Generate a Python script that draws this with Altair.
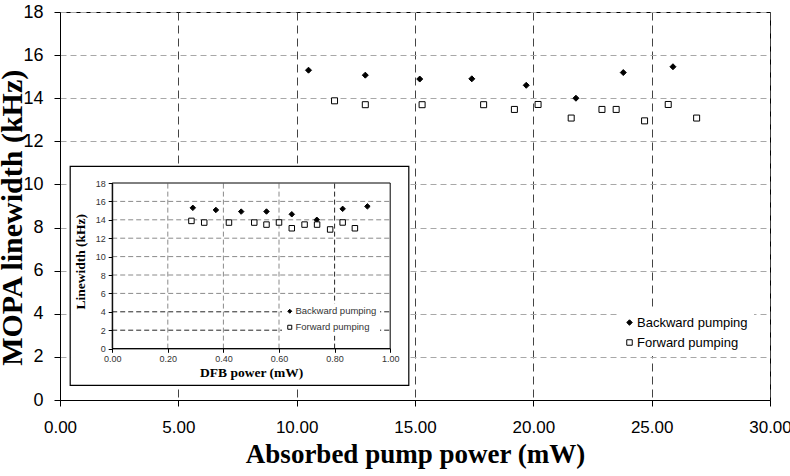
import altair as alt
import pandas as pd

SERIES = ["Backward pumping", "Forward pumping"]

# Absorbed pump power (mW) at each operating point
pump_backward = [10.5, 12.9, 15.2, 17.4, 19.7, 21.8, 23.8, 25.9]
pump_forward = [11.6, 12.9, 15.3, 17.9, 19.2, 20.2, 21.6, 22.9, 23.5, 24.7, 25.7, 26.9]

# DFB seed power (mW) at the same operating points
dfb_backward = [0.290, 0.373, 0.464, 0.555, 0.646, 0.736, 0.829, 0.918]
dfb_forward = [0.285, 0.331, 0.420, 0.511, 0.555, 0.600, 0.646, 0.692, 0.737, 0.784, 0.829, 0.873]

# Measured MOPA linewidth (kHz)
lw_backward = [15.3, 15.07, 14.89, 14.9, 14.6, 14.0, 15.19, 15.46]
lw_forward = [13.88, 13.7, 13.7, 13.7, 13.48, 13.71, 13.08, 13.48, 13.48, 12.95, 13.71, 13.08]

main_x_ticks = [0, 5, 10, 15, 20, 25, 30]
y_ticks = [0, 2, 4, 6, 8, 10, 12, 14, 16, 18]
inset_x_ticks = [0.0, 0.2, 0.4, 0.6, 0.8, 1.0]
inset_grid_x = [0.2, 0.4, 0.6, 0.8]
inset_grid_y = [2, 4, 6, 8, 10, 12, 14, 16]

df = pd.DataFrame({
    "series": [SERIES[0]] * len(lw_backward) + [SERIES[1]] * len(lw_forward),
    "pump": pump_backward + pump_forward,
    "dfb": dfb_backward + dfb_forward,
    "lw": lw_backward + lw_forward,
})

W, H = 710, 388
SANS = "Liberation Sans"
SERIF = "Liberation Serif"
GRID_LIGHT = "#8a8a8a"
GRID_DARK = "#262626"

shape_scale = alt.Scale(domain=SERIES, range=["diamond", "square"])
fill_scale = alt.Scale(domain=SERIES, range=["black", "white"])
stroke_scale = alt.Scale(domain=SERIES, range=["black", "black"])

# ---------------- main plot ----------------
main_legend = alt.Legend(
    title=None, orient="none", legendX=557, legendY=298,
    fillColor="white", padding=6, rowPadding=6,
    labelFont=SANS, labelFontSize=13, labelColor="black", labelOffset=1,
    symbolSize=30, symbolStrokeWidth=1,
)

main_points = alt.Chart(df).mark_point(
    filled=True, strokeWidth=1, opacity=1, size=36
).encode(
    x=alt.X(
        "pump:Q",
        scale=alt.Scale(domain=[0, 30], nice=False, zero=False),
        axis=alt.Axis(
            orient="bottom", values=main_x_ticks, format=".2f",
            title="Absorbed pump power (mW)",
            grid=True, gridColor="#444444", gridDash=[8, 5], gridWidth=1,
            domainColor="black", tickColor="black", tickSize=6,
            labelFont=SANS, labelFontSize=17, labelColor="black", labelPadding=13,
            labelFlush=False, labelOverlap=False,
            titleFont=SERIF, titleFontSize=27, titleFontWeight="bold", titleColor="black",
            titleY=62, titleBaseline="alphabetic",
        ),
    ),
    y=alt.Y(
        "lw:Q",
        scale=alt.Scale(domain=[0, 18], nice=False, zero=False),
        axis=alt.Axis(
            orient="left", values=y_ticks, format="d",
            title="MOPA linewidth (kHz)",
            grid=True, gridColor="#a8a8a8", gridDash=[6, 4], gridWidth=1,
            domainColor="black", tickColor="black", tickSize=6,
            labelFont=SANS, labelFontSize=18, labelColor="black", labelPadding=11,
            labelFlush=False, labelOverlap=False,
            titleFont=SERIF, titleFontSize=30, titleFontWeight="bold", titleColor="black",
            titleAngle=-90, titleX=-38.5, titleY=205.3, titleAlign="center",
            titleBaseline="alphabetic",
        ),
    ),
    shape=alt.Shape("series:N", scale=shape_scale, legend=main_legend),
    fill=alt.Fill("series:N", scale=fill_scale, legend=main_legend),
    stroke=alt.Stroke("series:N", scale=stroke_scale, legend=main_legend),
)

# ---------------- inset: linewidth vs DFB power ----------------
IX_RANGE = [52.2, 330.2]
IY_RANGE = [336.6, 171.0]


def ix():
    return alt.Scale(domain=[0, 1], range=IX_RANGE, nice=False, zero=False)


def iy():
    return alt.Scale(domain=[0, 18], range=IY_RANGE, nice=False, zero=False)


box_df = pd.DataFrame({"k": [0]})
inset_box = alt.Chart(box_df).mark_rect(
    fill="white", stroke="black", strokeWidth=1.2
).encode(
    x=alt.value(10.2), x2=alt.value(348.8),
    y=alt.value(154.3), y2=alt.value(373.3),
)

# the two lowest horizontal and the 0.80 vertical grid lines are drawn darker
grid_h_df = pd.DataFrame({"v": inset_grid_y, "a": 0.0, "b": 1.0})
grid_h_df["c"] = [GRID_DARK if v <= 4 else GRID_LIGHT for v in inset_grid_y]
grid_h = alt.Chart(grid_h_df).mark_rule(strokeDash=[5, 3], strokeWidth=1).encode(
    x=alt.X("a:Q", scale=ix(), axis=None),
    x2="b:Q",
    y=alt.Y("v:Q", scale=iy(), axis=None),
    color=alt.Color("c:N", scale=None),
)

grid_v_df = pd.DataFrame({"v": inset_grid_x, "a": 0.0, "b": 18.0})
grid_v_df["c"] = [GRID_DARK if v >= 0.8 else GRID_LIGHT for v in inset_grid_x]
grid_v = alt.Chart(grid_v_df).mark_rule(strokeDash=[5, 3], strokeWidth=1).encode(
    x=alt.X("v:Q", scale=ix(), axis=None),
    y=alt.Y("a:Q", scale=iy(), axis=None),
    y2="b:Q",
    color=alt.Color("c:N", scale=None),
)

frame_df = pd.DataFrame({"x0": [0.0], "x1": [1.0], "y0": [0.0], "y1": [18.0]})
inset_frame = alt.Chart(frame_df).mark_rect(
    fillOpacity=0, stroke="black", strokeWidth=1
).encode(
    x=alt.X("x0:Q", scale=ix(), axis=None),
    x2="x1:Q",
    y=alt.Y("y0:Q", scale=iy(), axis=None),
    y2="y1:Q",
)

inset_legend = alt.Legend(
    title=None, orient="none", legendX=222, legendY=291.5,
    fillColor="white", padding=3, rowPadding=5,
    labelFont=SANS, labelFontSize=9.5, labelColor="#333333", labelOffset=1,
    symbolSize=16, symbolStrokeWidth=1,
)

inset_points = alt.Chart(df).mark_point(
    filled=True, strokeWidth=1, opacity=1, size=30
).encode(
    x=alt.X(
        "dfb:Q", scale=ix(),
        axis=alt.Axis(
            orient="bottom", offset=-51.7, values=inset_x_ticks, format=".2f",
            title="DFB power (mW)", grid=False,
            domainColor="black", tickColor="black", tickSize=4,
            labelFont=SANS, labelFontSize=9, labelColor="#333333", labelPadding=2,
            labelFlush=False, labelOverlap=False,
            titleFont=SERIF, titleFontSize=13.5, titleFontWeight="bold", titleColor="black",
            titleY=28, titleBaseline="alphabetic", zindex=2,
        ),
    ),
    y=alt.Y(
        "lw:Q", scale=iy(),
        axis=alt.Axis(
            orient="left", offset=-52.2, values=y_ticks, format="d",
            title="Linewidth (kHz)", grid=False,
            domainColor="black", tickColor="black", tickSize=4,
            labelFont=SANS, labelFontSize=9, labelColor="#333333", labelPadding=3,
            labelFlush=False, labelOverlap=False,
            titleFont=SERIF, titleFontSize=13.5, titleFontWeight="bold", titleColor="black",
            titleAngle=-90, titleX=-28, titleY=249.3, titleAlign="center",
            titleBaseline="alphabetic", zindex=2,
        ),
    ),
    shape=alt.Shape("series:N", scale=shape_scale, legend=inset_legend),
    fill=alt.Fill("series:N", scale=fill_scale, legend=inset_legend),
    stroke=alt.Stroke("series:N", scale=stroke_scale, legend=inset_legend),
)

chart = alt.layer(
    main_points, inset_box, grid_h, grid_v, inset_frame, inset_points
).resolve_scale(
    x="independent", y="independent",
    shape="independent", fill="independent", stroke="independent",
).properties(
    width=W, height=H,
    autosize=alt.AutoSizeParams(type="none"),
    padding={"left": 60, "top": 12, "right": 20, "bottom": 76},
    background="white",
).configure_view(stroke="black", strokeWidth=1)

chart.save("out.html", embed_options={"renderer": "svg", "actions": False})
